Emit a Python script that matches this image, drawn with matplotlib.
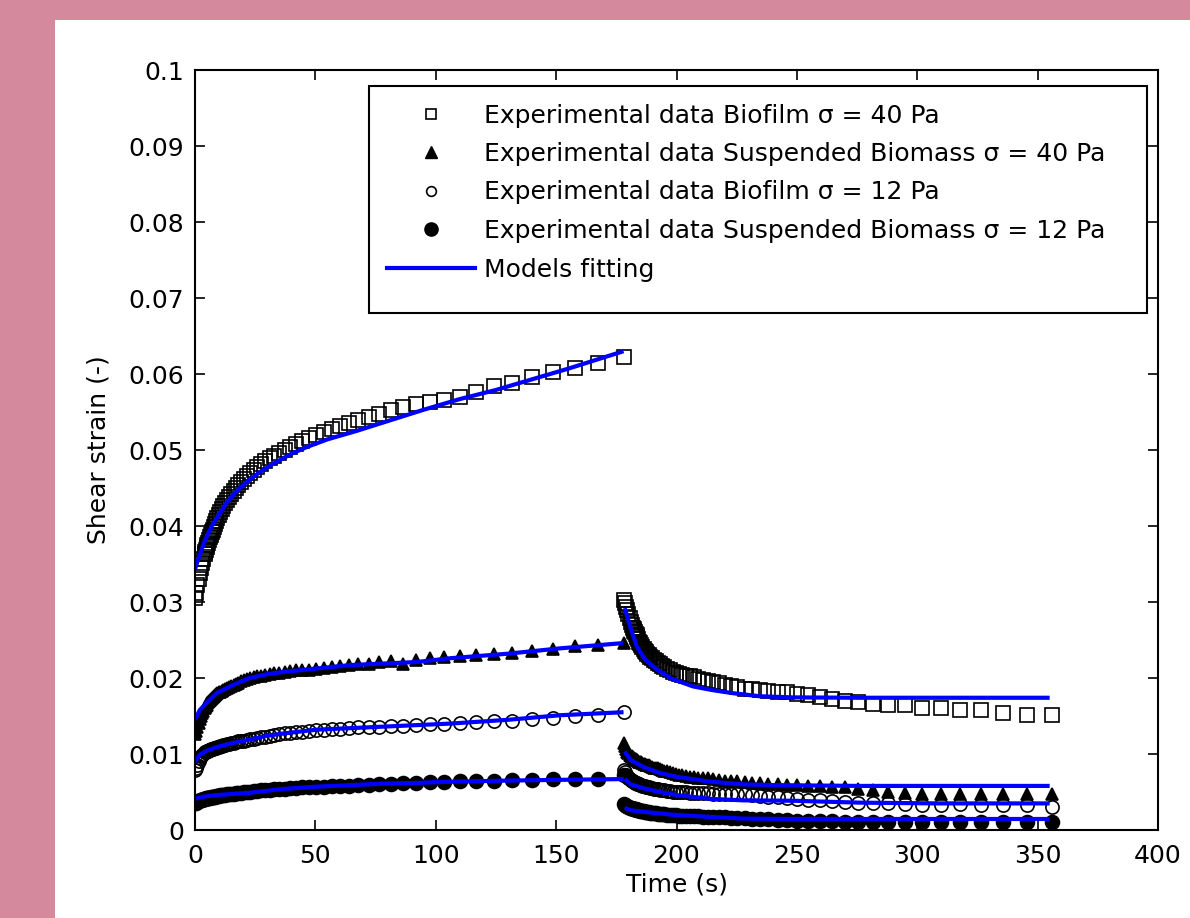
import numpy as np
import matplotlib
matplotlib.use("Agg")
import matplotlib.pyplot as plt
from matplotlib.patches import Rectangle
from matplotlib.lines import Line2D

plt.rcParams['font.family'] = ['DejaVu Sans']

# ---------------- data ----------------
step_time_s = 178.0   # stress removed at this time (recovery starts)

# sampling times (s) elapsed since start of creep / start of recovery
elapsed_s = [0.2, 0.5, 1.0, 1.5, 2.0, 2.5, 3.0, 3.5, 4.0, 4.3,
             4.5, 4.8, 5.1, 5.4, 5.7, 6.1, 6.5, 6.9, 7.3, 7.8,
             8.3, 8.8, 9.3, 9.9, 10.5, 11.2, 11.8, 12.6, 13.4, 14.2,
             15.1, 16.0, 17.0, 18.0, 19.2, 20.4, 21.6, 23.0, 24.4, 25.9,
             27.5, 29.2, 31.1, 33.0, 35.0, 37.2, 39.5, 42.0, 44.6, 47.3,
             50.3, 53.4, 56.7, 60.2, 64.0, 67.9, 72.1, 76.6, 81.4, 86.4,
             91.8, 97.5, 103.5, 110.0, 116.8, 124.0, 131.7, 139.9, 148.6, 157.8,
             167.6, 178.0]

# experimental strain values, in units of 1e-3
biofilm40_creep = [30.5, 31.2, 32.2, 33.0, 33.8, 34.5, 35.1, 35.7, 36.3, 36.6,
                   36.9, 37.2, 37.5, 37.8, 38.1, 38.5, 38.8, 39.2, 39.5, 39.9,
                   40.3, 40.7, 41.0, 41.4, 41.8, 42.2, 42.6, 43.0, 43.4, 43.8,
                   44.2, 44.6, 45.0, 45.4, 45.8, 46.2, 46.6, 47.0, 47.4, 47.7,
                   48.1, 48.5, 48.9, 49.2, 49.6, 50.0, 50.4, 50.8, 51.2, 51.6,
                   52.0, 52.4, 52.8, 53.2, 53.6, 54.0, 54.4, 54.8, 55.2, 55.6,
                   56.0, 56.3, 56.6, 57.0, 57.6, 58.4, 58.8, 59.6, 60.2, 60.8,
                   61.4, 62.2]
biofilm40_recov = [30.2, 29.9, 29.4, 28.9, 28.4, 27.9, 27.4, 27.0, 26.6, 26.4,
                   26.2, 26.0, 25.8, 25.6, 25.4, 25.1, 24.8, 24.6, 24.3, 24.1,
                   23.8, 23.6, 23.4, 23.2, 23.0, 22.8, 22.6, 22.4, 22.2, 22.0,
                   21.8, 21.6, 21.4, 21.2, 21.0, 20.8, 20.7, 20.5, 20.4, 20.3,
                   20.2, 20.1, 19.9, 19.8, 19.6, 19.5, 19.3, 19.1, 18.9, 18.8,
                   18.6, 18.5, 18.4, 18.3, 18.2, 18.1, 17.9, 17.7, 17.5, 17.2,
                   17.0, 16.8, 16.6, 16.5, 16.4, 16.1, 16.0, 15.8, 15.8, 15.4,
                   15.1, 15.1]
susp40_creep = [12.6, 13.0, 13.6, 14.1, 14.6, 15.0, 15.4, 15.7, 16.0, 16.2,
                16.3, 16.5, 16.7, 16.8, 16.95, 17.1, 17.25, 17.4, 17.5, 17.65,
                17.8, 17.9, 18.0, 18.1, 18.2, 18.35, 18.45, 18.6, 18.75, 18.85,
                19.0, 19.1, 19.25, 19.4, 19.55, 19.7, 19.85, 20.0, 20.1, 20.2,
                20.3, 20.4, 20.5, 20.6, 20.7, 20.8, 20.9, 21.0, 21.05, 21.1,
                21.2, 21.3, 21.4, 21.55, 21.7, 21.8, 21.9, 22.1, 22.3, 21.9,
                22.4, 22.6, 22.8, 22.9, 23.0, 23.2, 23.3, 23.5, 23.8, 24.2,
                24.4, 24.6]
susp40_recov = [11.4, 11.0, 10.6, 10.3, 10.1, 9.9, 9.8, 9.7, 9.6, 9.5,
                9.4, 9.35, 9.3, 9.2, 9.15, 9.1, 9.0, 8.95, 8.9, 8.8,
                8.75, 8.7, 8.6, 8.55, 8.5, 8.4, 8.3, 8.2, 8.15, 8.1,
                8.0, 7.9, 7.8, 7.7, 7.6, 7.5, 7.4, 7.3, 7.2, 7.1,
                7.0, 6.95, 6.9, 6.85, 6.8, 6.7, 6.6, 6.5, 6.45, 6.4,
                6.3, 6.25, 6.2, 6.1, 6.0, 5.95, 5.9, 5.85, 5.8, 5.7,
                5.6, 5.4, 5.2, 5.0, 4.9, 4.8, 4.8, 4.8, 4.8, 4.8,
                4.8, 4.7]
biofilm12_creep = [7.9, 8.2, 8.6, 9.1, 9.5, 9.7, 9.9, 10.05, 10.2, 10.25,
                   10.3, 10.35, 10.4, 10.45, 10.5, 10.55, 10.6, 10.7, 10.7, 10.75,
                   10.8, 10.85, 10.9, 10.95, 11.0, 11.1, 11.15, 11.2, 11.3, 11.35,
                   11.4, 11.5, 11.55, 11.65, 11.7, 11.75, 11.85, 11.95, 12.0, 12.1,
                   12.2, 12.3, 12.4, 12.5, 12.6, 12.7, 12.8, 12.9, 12.95, 13.05,
                   13.1, 13.2, 13.25, 13.35, 13.4, 13.5, 13.55, 13.6, 13.7, 13.75,
                   13.8, 13.9, 14.0, 14.1, 14.2, 14.3, 14.4, 14.6, 14.8, 15.0,
                   15.1, 15.5]
biofilm12_recov = [7.9, 7.6, 7.3, 7.1, 6.9, 6.7, 6.6, 6.5, 6.4, 6.35,
                   6.3, 6.25, 6.2, 6.15, 6.1, 6.05, 6.0, 5.95, 5.9, 5.85,
                   5.8, 5.75, 5.7, 5.65, 5.6, 5.55, 5.5, 5.45, 5.4, 5.35,
                   5.3, 5.25, 5.2, 5.15, 5.1, 5.05, 5.0, 5.0, 4.95, 4.95,
                   4.9, 4.9, 4.9, 4.85, 4.85, 4.8, 4.8, 4.8, 4.75, 4.75,
                   4.7, 4.6, 4.5, 4.4, 4.3, 4.2, 4.1, 4.0, 3.9, 3.8,
                   3.7, 3.6, 3.5, 3.5, 3.4, 3.3, 3.3, 3.4, 3.3, 3.3,
                   3.3, 3.0]
susp12_creep = [3.5, 3.6, 3.7, 3.8, 3.9, 3.95, 4.0, 4.05, 4.1, 4.1,
                4.15, 4.15, 4.2, 4.2, 4.25, 4.25, 4.3, 4.3, 4.35, 4.4,
                4.4, 4.45, 4.5, 4.5, 4.55, 4.6, 4.6, 4.65, 4.7, 4.7,
                4.75, 4.8, 4.85, 4.9, 4.9, 4.95, 5.0, 5.05, 5.1, 5.15,
                5.2, 5.25, 5.3, 5.35, 5.4, 5.45, 5.5, 5.55, 5.6, 5.6,
                5.65, 5.7, 5.75, 5.8, 5.85, 5.9, 5.95, 6.0, 6.1, 6.15,
                6.2, 6.3, 6.35, 6.4, 6.45, 6.5, 6.55, 6.6, 6.65, 6.7,
                6.75, 7.3]
susp12_recov = [3.4, 3.3, 3.2, 3.1, 3.0, 2.95, 2.9, 2.85, 2.8, 2.78,
                2.75, 2.72, 2.7, 2.68, 2.65, 2.6, 2.58, 2.55, 2.52, 2.5,
                2.45, 2.42, 2.4, 2.35, 2.32, 2.3, 2.25, 2.2, 2.18, 2.15,
                2.1, 2.08, 2.05, 2.0, 1.98, 1.95, 1.92, 1.9, 1.88, 1.85,
                1.82, 1.8, 1.78, 1.75, 1.72, 1.7, 1.68, 1.65, 1.62, 1.6,
                1.55, 1.5, 1.45, 1.4, 1.35, 1.3, 1.25, 1.2, 1.2, 1.15,
                1.1, 1.1, 1.1, 1.05, 1.05, 1.0, 1.05, 1.0, 1.05, 1.0,
                1.0, 1.0]

# model fits (units of 1e-3)
model_b40_creep_t = [0, 1, 2, 3.5, 5, 7.5, 10, 13, 17, 21.5, 27, 32.5, 40, 46.5,
                     55, 67, 80, 95, 110, 125, 140, 155, 170, 178]
model_b40_creep = [34.3, 35.3, 36.2, 37.6, 38.7, 40.3, 41.5, 43.0, 44.5, 45.8, 47.1,
                   48.2, 49.5, 50.4, 51.4, 52.5, 53.8, 55.3, 56.7, 57.9, 59.3, 60.7,
                   62.2, 63.0]
model_b40_recov_t = [0.5, 3, 5.6, 9, 13.9, 20, 28.8, 37, 45.5, 56.6, 70, 98, 177]
model_b40_recov = [29.2, 26.5, 24.1, 22.4, 21.1, 19.9, 18.9, 18.4, 18.0, 17.6, 17.45,
                   17.4, 17.4]
model_s40_creep_t = [0, 2, 4.8, 9, 15.9, 22.8, 30, 36.7, 50.5, 64.4, 78.2, 92, 106,
                     130, 151.6, 178]
model_s40_creep = [14.5, 15.8, 16.7, 18.0, 19.1, 20.0, 20.5, 20.8, 21.25, 21.7, 21.9,
                   22.1, 22.6, 23.2, 23.9, 24.6]
model_s40_recov_t = [0.5, 3, 8.2, 15, 22, 36, 49.7, 63.6, 98, 177]
model_s40_recov = [10.3, 9.2, 8.3, 7.5, 7.0, 6.36, 6.0, 5.9, 5.8, 5.8]
model_b12_creep_t = [0, 2, 4.8, 9, 15, 22.8, 30, 36.7, 50.5, 64.4, 78.2, 92, 106, 130,
                     151.6, 178]
model_b12_creep = [9.0, 9.9, 10.4, 10.9, 11.4, 11.9, 12.4, 12.7, 13.2, 13.4, 13.6,
                   13.8, 14.0, 14.5, 15.1, 15.5]
model_b12_recov_t = [0.5, 3, 8.2, 15, 22, 36, 49.7, 70, 98, 130, 177]
model_b12_recov = [6.7, 6.0, 5.5, 5.0, 4.6, 4.1, 3.9, 3.85, 3.6, 3.5, 3.5]
model_s12_creep_t = [0, 4, 9, 22.8, 36.7, 50.5, 64.4, 78.2, 92, 106, 130, 151.6, 178]
model_s12_creep = [4.1, 4.4, 4.6, 4.9, 5.4, 5.7, 5.9, 6.1, 6.2, 6.35, 6.5, 6.6, 6.7]
model_s12_recov_t = [0.5, 3, 8, 20.7, 34.5, 49.6, 70, 100, 177]
model_s12_recov = [2.9, 2.6, 2.4, 2.0, 1.75, 1.5, 1.45, 1.45, 1.45]

labels = ["Experimental data Biofilm \u03c3 = 40 Pa",
          "Experimental data Suspended Biomass \u03c3 = 40 Pa",
          "Experimental data Biofilm \u03c3 = 12 Pa",
          "Experimental data Suspended Biomass \u03c3 = 12 Pa",
          "Models fitting"]
x_ticks = [0, 50, 100, 150, 200, 250, 300, 350, 400]
y_ticks = [0, 0.01, 0.02, 0.03, 0.04, 0.05, 0.06, 0.07, 0.08, 0.09, 0.1]
y_tick_labels = ["0", "0.01", "0.02", "0.03", "0.04", "0.05", "0.06", "0.07",
                 "0.08", "0.09", "0.1"]

# ---------------- figure ----------------
W, H = 1190, 918
FS = 18
fig = plt.figure(figsize=(W / 100, H / 100), dpi=100)
fig.patch.set_facecolor('white')
pink = '#d5899c'
fig.patches.append(Rectangle((0, 0), 55 / W, 1, transform=fig.transFigure,
                             facecolor=pink, edgecolor='none', zorder=0))
fig.patches.append(Rectangle((0, 1 - 20 / H), 1, 20 / H, transform=fig.transFigure,
                             facecolor=pink, edgecolor='none', zorder=0))

AX_L, AX_R, AX_T, AX_B = 195, 1158, 70, 830
ax = fig.add_axes([AX_L / W, (H - AX_B) / H, (AX_R - AX_L) / W, (AX_B - AX_T) / H])

t_c = np.array(elapsed_s)
t_r = step_time_s + np.array(elapsed_s)
k = 1e-3

mkw = dict(linestyle='none', markeredgecolor='black', markeredgewidth=1.2)
series = [
    (biofilm40_creep, biofilm40_recov, dict(marker='s', markersize=9.5, markerfacecolor='none')),
    (susp40_creep, susp40_recov, dict(marker='^', markersize=8.5, markerfacecolor='black')),
    (biofilm12_creep, biofilm12_recov, dict(marker='o', markersize=9.5, markerfacecolor='none')),
    (susp12_creep, susp12_recov, dict(marker='o', markersize=10, markerfacecolor='black')),
]
for creep, recov, style in series:
    ax.plot(np.concatenate([t_c, t_r]),
            np.concatenate([np.array(creep), np.array(recov)]) * k,
            **mkw, **style)

blue = '#0000ff'
lw = 3.0
models = [
    (model_b40_creep_t, model_b40_creep, model_b40_recov_t, model_b40_recov),
    (model_s40_creep_t, model_s40_creep, model_s40_recov_t, model_s40_recov),
    (model_b12_creep_t, model_b12_creep, model_b12_recov_t, model_b12_recov),
    (model_s12_creep_t, model_s12_creep, model_s12_recov_t, model_s12_recov),
]
for tc, yc, tr, yr in models:
    ax.plot(tc, np.array(yc) * k, color=blue, lw=lw, solid_capstyle='butt')
    ax.plot(step_time_s + np.array(tr), np.array(yr) * k, color=blue, lw=lw,
            solid_capstyle='butt')

ax.set_xlim(0, 400)
ax.set_ylim(0, 0.1)
ax.set_xticks(x_ticks)
ax.set_xticklabels([str(v) for v in x_ticks])
ax.set_yticks(y_ticks)
ax.set_yticklabels(y_tick_labels)
ax.tick_params(direction='in', length=7, width=1.2, top=True, right=True,
               labelsize=FS)
ax.tick_params(axis='y', pad=8)
ax.tick_params(axis='x', pad=10)
for sp in ax.spines.values():
    sp.set_linewidth(1.5)
ax.set_xlabel("Time (s)", fontsize=FS, labelpad=3)
ax.set_ylabel("Shear strain (-)", fontsize=FS, labelpad=13)

# legend box (drawn as a patch so its size matches the reference)
LG_L, LG_R, LG_T, LG_B = 369, 1147, 86, 313
aw, ah = AX_R - AX_L, AX_B - AX_T
ax.add_patch(Rectangle(((LG_L - AX_L) / aw, (AX_B - LG_B) / ah),
                       (LG_R - LG_L) / aw, (LG_B - LG_T) / ah,
                       transform=ax.transAxes, facecolor='white', edgecolor='black',
                       linewidth=1.5, zorder=4))

handles = [
    Line2D([], [], linestyle='none', marker='s', markersize=7.5, markerfacecolor='none',
           markeredgecolor='black', markeredgewidth=1.2),
    Line2D([], [], linestyle='none', marker='^', markersize=8, markerfacecolor='black',
           markeredgecolor='black'),
    Line2D([], [], linestyle='none', marker='o', markersize=7, markerfacecolor='none',
           markeredgecolor='black', markeredgewidth=1.2),
    Line2D([], [], linestyle='none', marker='o', markersize=9.5, markerfacecolor='black',
           markeredgecolor='black'),
    Line2D([], [], color=blue, lw=3),
]
leg = ax.legend(handles, labels, loc='upper left',
                bbox_to_anchor=((LG_L - AX_L) / aw, (AX_B - LG_T) / ah),
                fontsize=FS, frameon=False, borderaxespad=0, handlelength=3.52,
                handletextpad=0.4, labelspacing=0.58, borderpad=0.7)
leg.set_zorder(5)

fig.savefig("out.png", dpi=100, facecolor=fig.get_facecolor())
